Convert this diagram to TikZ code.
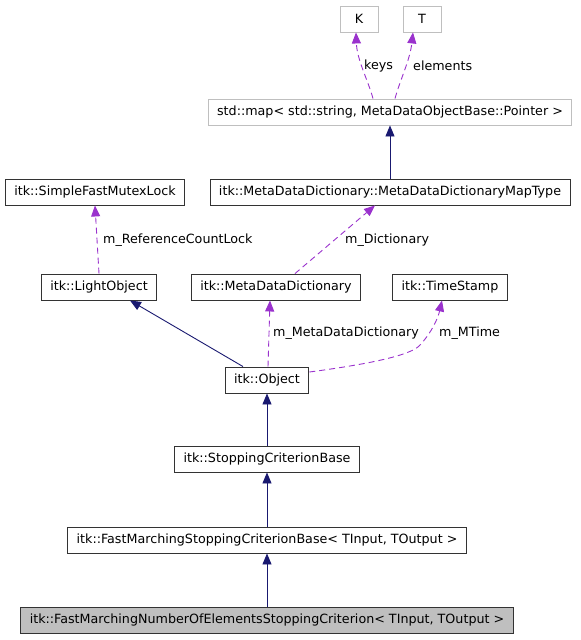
\documentclass[tikz,border=0pt]{standalone}
\usepackage{fontspec}
\setmainfont{DejaVu Sans}
\usetikzlibrary{arrows.meta,calc}
\definecolor{edgeblue}{HTML}{191970}
\definecolor{edgepurple}{HTML}{9A32CD}
\definecolor{boxgray}{HTML}{BFBFBF}

\begin{document}
\begin{tikzpicture}[
    x=1pt, y=-1pt,
    font=\fontsize{12.7}{15}\selectfont,
    cls/.style={draw=black!80, line width=0.9pt, minimum height=26pt, inner xsep=9pt, inner ysep=0pt, fill=white},
    ext/.style={cls, draw=boxgray, minimum width=38pt},
    inherit/.style={-{Triangle[length=11pt,width=9pt]}, color=edgeblue, line width=0.9pt},
    dep/.style={-{Triangle[length=11pt,width=9pt]}, color=edgepurple, dash pattern=on 6pt off 4pt, line width=0.9pt},
    lbl/.style={anchor=west, inner sep=0pt}
]
\useasboundingbox (0,0) rectangle (581,640);

% Template arguments and map
\node[ext] (k) at (359,19) {K};
\node[ext] (t) at (422,19) {T};
\node[ext] (stdmap) at (390,112) {std::map< std::string, MetaDataObjectBase::Pointer >};

% Members
\node[cls] (maptype) at (390,192) {itk::MetaDataDictionary::MetaDataDictionaryMapType};
\node[cls] (mutex) at (95,192) {itk::SimpleFastMutexLock};
\node[cls] (light) at (99,287) {itk::LightObject};
\node[cls] (mdd) at (276,287) {itk::MetaDataDictionary};
\node[cls] (stamp) at (450,287) {itk::TimeStamp};

% Class hierarchy
\node[cls] (obj) at (267,380) {itk::Object};
\node[cls] (scb) at (267,459) {itk::StoppingCriterionBase};
\node[cls] (fmscb) at (267,540) {itk::FastMarchingStoppingCriterionBase< TInput, TOutput >};
\node[cls, fill=boxgray] (fmnoe) at (267,620) {itk::FastMarchingNumberOfElementsStoppingCriterion< TInput, TOutput >};

% Inheritance arrows
\draw[inherit] (stdmap.south |- maptype.north) -- (stdmap.south);
\draw[inherit] ($(obj.north)+(-24,0)$) -- ($(light.south)+(31,0)$);
\draw[inherit] (scb.north) -- (obj.south);
\draw[inherit] (fmscb.north) -- (scb.south);
\draw[inherit] (fmnoe.north) -- (fmscb.south);

% Usage arrows
\draw[dep] ($(stdmap.north)+(-17,0)$) .. controls (368,80) and (357,60) .. ($(k.south)+(-3,0)$);
\draw[dep] ($(stdmap.north)+(5,0)$) .. controls (400,80) and (410,60) .. ($(t.south)+(-9,0)$);
\draw[dep] ($(mdd.north)+(19,0)$) -- ($(maptype.south)+(-15,0)$);
\draw[dep] (light.north) -- (mutex.south);
\draw[dep] ($(obj.north)+(1,0)$) -- ($(mdd.south)+(-6,0)$);
\draw[dep] ($(obj.east)+(0,-8)$) .. controls (370,364) and (412,355) .. (420,345)
    .. controls (432,332) and (438,318) .. ($(stamp.south)+(-8,0)$);

% Labels
\node[lbl] (lkeys) at (364,66) {keys};
\node[lbl] (lelements) at (413,66) {elements};
\node[lbl] (llock) at (103,240) {m\_ReferenceCountLock};
\node[lbl] (ldict) at (345,240) {m\_Dictionary};
\node[lbl] (lmdd) at (273,333) {m\_MetaDataDictionary};
\node[lbl] (lmtime) at (439,333) {m\_MTime};

\end{tikzpicture}
\end{document}
